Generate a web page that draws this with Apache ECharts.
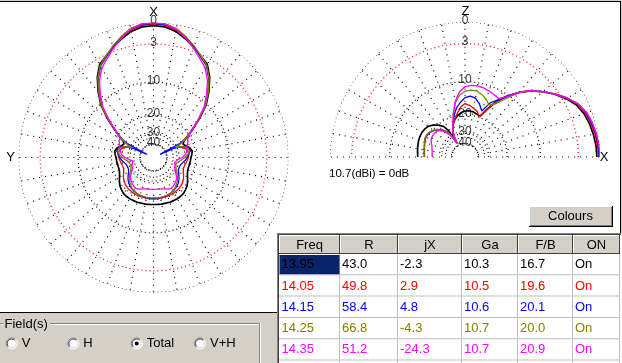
<!DOCTYPE html>
<html><head><meta charset="utf-8">
<script src="https://cdn.jsdelivr.net/npm/echarts@6/dist/echarts.min.js"></script>
<style>html,body{margin:0;padding:0;background:#fff;overflow:hidden}#c{width:622px;height:363px;}</style>
</head><body><div id="c"></div>
<script>
// ---- data ----
const seriesNames = ['13.95', '14.05', '14.15', '14.25', '14.35'];
const seriesColors = ['#000000', '#ff0000', '#0000ff', '#808000', '#ff00ff'];

// azimuth pattern (half, mirrored), attenuation in dB below 10.7 dBi
const azAngles = [0,5,10,15,20,25,30,35,40,45,50,55,60,62,64,66,68,70,75,80,85,90,95,100,105,110,115,120,125,130,135,140,145,150,155,160,165,170,175,180];
const azBlack = [0.4,0.5,0.9,1.6,2.4,3.2,3.9,5.5,7.7,10.2,14.0,18.2,22.3,23.5,24.2,24.5,24.2,23.5,22.0,21.2,21.5,22.0,22.2,22.4,22.5,22.5,22.0,21.2,20.2,19.3,18.7,18.2,18.0,17.9,17.9,17.9,18.0,18.0,18.1,18.1];
const azRed = [0.2,0.3,0.7,1.4,2.3,3.2,4.1,5.7,7.9,10.4,14.2,18.5,22.8,25.0,27.0,28.0,27.5,26.0,24.0,23.2,23.0,23.2,23.8,24.3,24.7,24.8,24.3,23.3,22.4,21.7,21.2,20.9,20.7,20.5,20.4,20.4,20.4,20.3,20.2,20.2];
const azBlue = [0.1,0.2,0.6,1.4,2.3,3.3,4.2,5.8,8.0,10.5,14.3,18.6,22.5,26.0,50.0,31.0,27.0,25.0,22.3,22.2,23.0,23.8,24.8,26.0,27.0,27.3,27.3,26.5,25.3,24.0,23.0,22.3,21.8,21.3,21.0,20.8,20.7,20.6,20.5,20.5];
const azOlive = [0.0,0.1,0.5,1.3,2.2,3.2,4.1,5.7,7.9,10.4,14.2,18.4,22.4,24.5,27.0,29.0,27.0,25.0,22.8,22.5,23.5,25.0,27.0,29.0,30.0,29.8,29.0,28.0,26.3,24.8,23.8,23.0,22.0,21.5,21.1,20.9,20.8,20.7,20.7,20.7];
const azMagenta = [0.0,0.1,0.6,1.5,2.5,3.6,4.6,6.2,8.4,10.9,14.6,18.6,21.5,21.5,21.6,21.8,22.3,22.8,23.3,23.8,24.8,26.5,29.5,32.0,31.5,30.5,30.0,29.3,27.5,25.8,24.6,24.0,23.3,22.8,23.2,24.0,24.5,24.7,24.8,24.8];

// elevation pattern (0 = +X horizon, 90 = zenith, 180 = -X horizon)
const elAngles = [0,5,10,15,20,25,30,35,40,45,50,55,60,65,70,75,80,85,90,95,100,105,110,115,118,120,122,125,130,135,140,145,150,155,160,165,170,175,180];
const elBlack = [0.4,0.45,0.6,0.8,1.1,1.6,2.5,3.6,4.9,6.3,8.1,10.3,12.6,16.0,19.5,19.0,18.5,18.3,18.5,19.0,20.0,21.3,23.3,26.5,30.0,36.0,25.0,22.0,20.2,18.8,17.8,17.4,17.2,17.2,17.3,17.5,17.7,17.9,18.0];
const elRed = [0.2,0.25,0.4,0.6,0.9,1.4,2.4,3.6,4.9,6.3,8.1,10.2,12.4,16.3,19.8,18.1,17.2,16.4,15.9,17.0,19.1,21.2,23.3,26.5,30.0,37.0,30.0,25.5,23.0,21.3,20.3,19.6,19.2,19.2,19.6,20.0,20.4,20.6,20.7];
const elBlue = [0.1,0.15,0.3,0.5,0.8,1.3,2.3,3.5,4.85,6.2,8.0,10.1,12.3,14.0,17.4,15.3,14.0,13.6,14.1,15.5,17.2,19.8,23.0,26.5,30.0,37.0,30.0,25.5,23.3,21.5,20.5,19.7,19.3,19.3,19.7,20.1,20.4,20.5,20.6];
const elOlive = [0.0,0.05,0.2,0.4,0.7,1.3,2.3,3.5,4.85,6.2,8.0,11.0,13.5,14.7,13.5,12.6,12.0,12.0,12.4,13.3,15.3,18.7,23.0,26.5,30.0,37.0,30.0,25.5,23.3,21.3,20.3,19.5,19.1,19.2,19.6,20.0,20.3,20.5,20.6];
const elMagenta = [0.0,0.05,0.2,0.4,0.7,1.3,2.3,3.5,4.85,6.2,8.0,10.4,11.9,11.6,11.2,10.9,10.75,10.8,11.2,12.5,15.0,19.0,23.0,26.5,30.0,37.0,31.0,27.0,23.8,22.0,21.5,21.4,21.5,22.0,23.0,23.6,24.0,24.2,24.3];

const ringDb = [0, 3, 10, 20, 30, 40];
const ringColors = ['#000', '#ff0000', '#000', '#000', '#000', '#000'];
const spokeStep = 10;
const refGainText = '10.7(dBi) = 0dB';

// table
const tblHeader = ['Freq', 'R', 'jX', 'Ga', 'F/B', 'ON'];
const tblFreq = ['13.95', '14.05', '14.15', '14.25', '14.35'];
const tblR = ['43.0', '49.8', '58.4', '66.8', '51.2'];
const tblJX = ['-2.3', '2.9', '4.8', '-4.3', '-24.3'];
const tblGa = ['10.3', '10.5', '10.6', '10.7', '10.7'];
const tblFB = ['16.7', '19.6', '20.1', '20.0', '20.9'];
const tblOn = ['On', 'On', 'On', 'On', 'On'];
const fieldOptions = ['V', 'H', 'Total', 'V+H'];
const fieldSelected = 2;

// ---- build ----
const FONT = '"Liberation Sans", Arial, sans-serif';
const arrl = db => Math.pow(0.89, db / 2); // ARRL log polar scale

const azData = [azBlack, azRed, azBlue, azOlive, azMagenta];
const elData = [elBlack, elRed, elBlue, elOlive, elMagenta];

function mirrorAz(vals) {
  const pts = azAngles.map((a, i) => [arrl(vals[i]), a]);
  for (let i = azAngles.length - 2; i >= 0; i--) pts.push([arrl(vals[i]), 360 - azAngles[i]]);
  return pts;
}
function elPts(vals) { return elAngles.map((a, i) => [arrl(vals[i]), a]); }

function ringSeries(pi, maxAng) {
  return ringDb.map((d, k) => {
    const pts = [];
    for (let a = 0; a <= maxAng; a += 1) pts.push([arrl(d), a]);
    return {
      type: 'line', coordinateSystem: 'polar', polarIndex: pi, data: pts, silent: true,
      showSymbol: false, symbol: 'none', z: 1,
      lineStyle: { color: ringColors[k], width: 1.2, type: [1, 3] }
    };
  });
}
function spokeSeries(pi, maxAng, full) {
  const pts = [];
  const end = full ? 360 - spokeStep : maxAng;
  for (let a = 0; a <= end; a += spokeStep) {
    pts.push([arrl(ringDb[ringDb.length - 1]), a], [1, a], ['-', '-']);
  }
  return {
    type: 'line', coordinateSystem: 'polar', polarIndex: pi, data: pts, silent: true,
    showSymbol: false, symbol: 'none', z: 1, connectNulls: false,
    lineStyle: { color: '#000', width: 1.2, type: [1, 5] }
  };
}
function labelSeries(pi, ang) {
  return {
    type: 'scatter', coordinateSystem: 'polar', polarIndex: pi, silent: true, z: 5,
    data: ringDb.map(d => [arrl(d), ang, d]), symbolSize: 1,
    itemStyle: { color: 'rgba(0,0,0,0)' },
    label: { show: true, position: 'inside', offset: [0, -1.5], formatter: p => String(p.value[2]),
      fontSize: 12, fontFamily: FONT, color: '#000' }
  };
}

const series = [];
series.push(...ringSeries(0, 360), spokeSeries(0, 360, true), labelSeries(0, 0));
series.push(...ringSeries(1, 180), spokeSeries(1, 180, false), labelSeries(1, 90));
seriesNames.forEach((n, i) => {
  series.push({ name: n, type: 'line', coordinateSystem: 'polar', polarIndex: 0, data: mirrorAz(azData[i]),
    showSymbol: false, symbol: 'none', z: 3 + i, lineStyle: { color: seriesColors[i], width: i === 0 ? 1.7 : 1.3 } });
  series.push({ name: n, type: 'line', coordinateSystem: 'polar', polarIndex: 1, data: elPts(elData[i]),
    showSymbol: false, symbol: 'none', z: 3 + i, lineStyle: { color: seriesColors[i], width: i === 0 ? 1.7 : 1.3 } });
});

// ---- UI graphics ----
const G = [];
const rect = (x, y, w, h, fill, z) => G.push({ type: 'rect', shape: { x, y, width: w, height: h }, style: { fill }, z: z || 10, silent: true });
const txt = (x, y, text, opt) => G.push(Object.assign({ type: 'text', z: 20, silent: true,
  style: Object.assign({ x, y, text, fill: '#000', font: '13px ' + FONT, textAlign: 'left', textVerticalAlign: 'middle' }, opt || {}) }));

// frame
rect(0, 0, 622, 1, '#d4d0c8');
rect(0, 1, 621, 1, '#000');
rect(620, 1, 1, 233, '#000');
rect(621, 0, 1, 363, '#d4d0c8');

// axis letters + reference text
txt(153.5, 12, 'X', { textAlign: 'center' });
txt(10.5, 157, 'Y', { textAlign: 'center' });
txt(465.5, 11, 'Z', { textAlign: 'center' });
txt(604, 157, 'X', { textAlign: 'center' });
txt(329, 173.5, refGainText, { font: '11.5px ' + FONT });

// Colours button
rect(529, 206, 84, 21, '#000');
rect(529, 206, 83, 20, '#fff');
rect(530, 207, 82, 19, '#808080');
rect(530, 207, 81, 18, '#d4d0c8');
txt(570.5, 216.5, 'Colours', { textAlign: 'center' });

// bottom-left panel
rect(0, 312, 277, 51, '#d4d0c8');
rect(0, 312, 277, 1, '#000');
rect(0, 323, 260, 1, '#808080');
rect(1, 324, 259, 1, '#fff');
rect(259, 323, 1, 40, '#808080');
rect(260, 323, 1, 40, '#fff');
rect(3, 318, 47, 12, '#d4d0c8', 15);
txt(4.5, 324, 'Field(s)');
const radioX = [11.7, 73.3, 136.7, 200];
fieldOptions.forEach((f, i) => {
  const cx = radioX[i], cy = 343.5;
  G.push({ type: 'circle', shape: { cx, cy, r: 5.5 }, style: { fill: '#fff', stroke: null }, z: 16, silent: true });
  G.push({ type: 'arc', shape: { cx, cy, r: 5.5, startAngle: Math.PI * 0.75, endAngle: Math.PI * 1.75, clockwise: true }, style: { stroke: '#808080', lineWidth: 1, fill: null }, z: 17, silent: true });
  G.push({ type: 'arc', shape: { cx, cy, r: 5.5, startAngle: -Math.PI * 0.25, endAngle: Math.PI * 0.75, clockwise: true }, style: { stroke: '#ffffff', lineWidth: 1, fill: null }, z: 17, silent: true });
  G.push({ type: 'arc', shape: { cx, cy, r: 4.5, startAngle: Math.PI * 0.75, endAngle: Math.PI * 1.75, clockwise: true }, style: { stroke: '#404040', lineWidth: 1, fill: null }, z: 17, silent: true });
  G.push({ type: 'arc', shape: { cx, cy, r: 4.5, startAngle: -Math.PI * 0.25, endAngle: Math.PI * 0.75, clockwise: true }, style: { stroke: '#d4d0c8', lineWidth: 1, fill: null }, z: 17, silent: true });
  if (i === fieldSelected) G.push({ type: 'circle', shape: { cx, cy, r: 2 }, style: { fill: '#000' }, z: 18, silent: true });
  txt(cx + 10, cy, f);
});

// table
const colX = [277, 340, 398, 462, 518, 573, 620];
const headTop = 233, headBot = 254, rowH = 21.3;
rect(277, 233, 345, 130, '#ffffff', 10);
rect(277, 233, 344, 1, '#808080', 12);
rect(277, 233, 1, 130, '#808080', 12);
rect(278, 234, 343, 1, '#404040', 12);
rect(278, 234, 1, 129, '#404040', 12);
for (let c = 0; c < 6; c++) {
  const x0 = colX[c] + (c === 0 ? 2 : 0), x1 = colX[c + 1];
  rect(x0, headTop + 2, x1 - x0, headBot - headTop - 2, '#d4d0c8', 11);
  rect(x0, headTop + 2, x1 - x0, 1, '#ffffff', 12);
  rect(x0, headTop + 2, 1, headBot - headTop - 2, '#ffffff', 12);
  rect(x1 - 1, headTop + 2, 1, headBot - headTop - 2, '#404040', 12);
  rect(x0, headBot - 1, x1 - x0, 1, '#404040', 12);
  txt((x0 + x1) / 2, (headTop + headBot) / 2 + 1.5, tblHeader[c], { textAlign: 'center' });
}
const cols = [tblFreq, tblR, tblJX, tblGa, tblFB, tblOn];
for (let r = 0; r < tblFreq.length; r++) {
  const y0 = headBot + r * rowH, y1 = y0 + rowH;
  rect(279, y1 - 1, 341, 1, '#c0c0c0', 12);
  if (r === 0) rect(279.5, y0 + 1, 60, rowH - 2, '#0a246a', 13);
  for (let c = 0; c < 6; c++) {
    if (r === 0) rect(colX[c + 1] - 1, headBot, 1, 130, '#c0c0c0', 12);
    txt(colX[c] + (c === 0 ? 4.5 : 2), (y0 + y1) / 2, cols[c][r], { fill: seriesColors[r] });
  }
}

const chart = echarts.init(document.getElementById('c'), null, { renderer: 'canvas' });
chart.setOption({
  animation: false,
  backgroundColor: '#ffffff',
  polar: [{ center: [153.5, 157.5], radius: 135 }, { center: [465, 157], radius: 135 }],
  angleAxis: [
    { polarIndex: 0, type: 'value', min: 0, max: 360, startAngle: 90, clockwise: false, show: false },
    { polarIndex: 1, type: 'value', min: 0, max: 360, startAngle: 0, clockwise: false, show: false }
  ],
  radiusAxis: [
    { polarIndex: 0, type: 'value', min: 0, max: 1, show: false },
    { polarIndex: 1, type: 'value', min: 0, max: 1, show: false }
  ],
  series: series,
  graphic: G
});
</script></body></html>
